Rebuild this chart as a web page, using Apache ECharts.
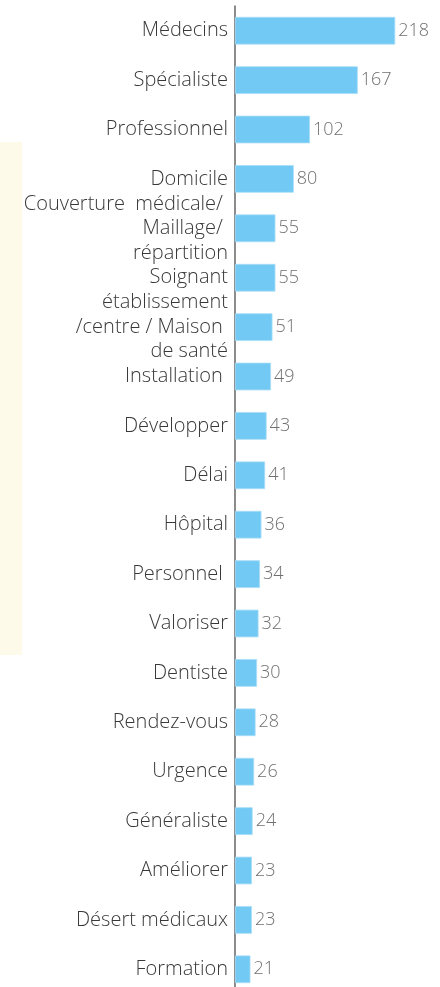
<!DOCTYPE html>
<html>
<head>
<meta charset="utf-8">
<script src="https://cdn.jsdelivr.net/npm/echarts@6/dist/echarts.min.js"></script>
<style>
html,body{margin:0;padding:0;background:#fff;overflow:hidden;}
#chart{width:440px;height:1000px;}
</style>
</head>
<body>
<div id="chart"></div>
<script>
var categories = [
  "Médecins",
  "Spécialiste",
  "Professionnel",
  "Domicile",
  "Couverture  médicale/ \nMaillage/ \nrépartition",
  "Soignant",
  "établissement\n/centre / Maison \nde santé",
  "Installation ",
  "Développer",
  "Délai",
  "Hôpital",
  "Personnel ",
  "Valoriser",
  "Dentiste",
  "Rendez-vous",
  "Urgence",
  "Généraliste",
  "Améliorer",
  "Désert médicaux",
  "Formation"
];
var values = [218, 167, 102, 80, 55, 55, 51, 49, 43, 41, 36, 34, 32, 30, 28, 26, 24, 23, 23, 21];

var chart = echarts.init(document.getElementById('chart'), null, {renderer: 'canvas'});
chart.setOption({
  animation: false,
  backgroundColor: '#ffffff',
  graphic: [{
    type: 'rect',
    shape: {x: 0, y: 142, width: 22, height: 513},
    style: {fill: '#FEFAE9'},
    z: -1
  }],
  grid: {left: 235, top: 6, width: 191.1, height: 988, containLabel: false, outerBoundsMode: 'none'},
  xAxis: {
    type: 'value', min: 0, max: 260,
    show: false, splitLine: {show: false}
  },
  yAxis: {
    type: 'category',
    data: categories,
    inverse: true,
    axisLine: {show: true, lineStyle: {color: '#666666', width: 1.5}},
    axisTick: {show: false},
    axisLabel: {
      color: '#383838', fontSize: 20, fontFamily: 'Open Sans', fontWeight: 300,
      margin: 7, lineHeight: 24.5, interval: 0
    },
    splitLine: {show: false}
  },
  series: [{
    type: 'bar',
    data: values,
    barWidth: '56%',
    itemStyle: {color: '#71C9F4', borderColor: '#A9DDF8', borderWidth: 0.8},
    label: {
      show: true, position: 'right', distance: 3,
      color: '#707070', fontSize: 18, fontFamily: 'Open Sans', fontWeight: 300
    }
  }]
});
</script>
</body>
</html>
